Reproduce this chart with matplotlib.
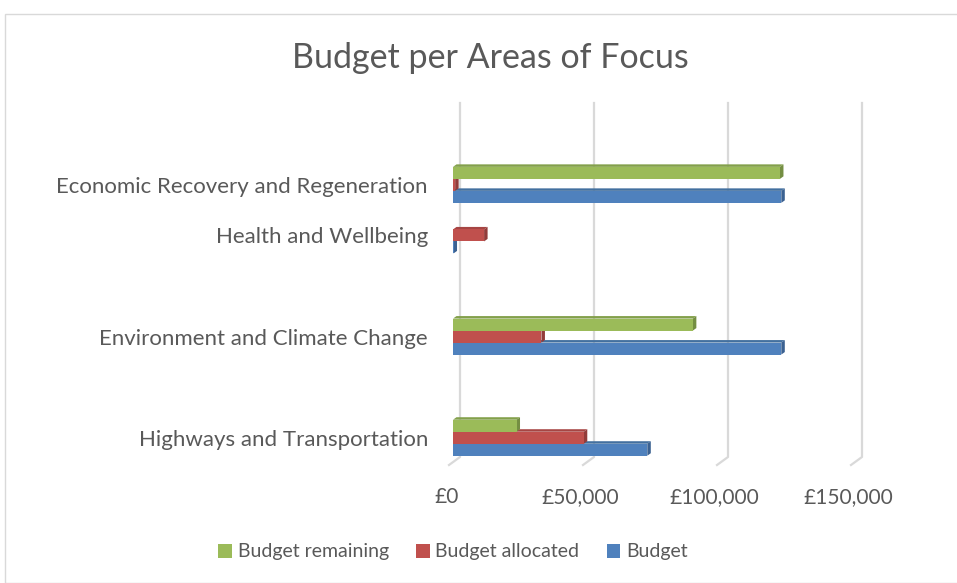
import matplotlib
matplotlib.use("Agg")
import matplotlib.pyplot as plt
from matplotlib.patches import Polygon, Rectangle
from matplotlib.transforms import ScaledTranslation

plt.rcParams['font.family'] = ['Lato', 'DejaVu Sans']

# data (blank rows kept as empty categories, as in the sheet)
categories = ['Highways and Transportation', '', 'Environment and Climate Change', '',
              'Health and Wellbeing', 'Economic Recovery and Regeneration', '']
budget = [72500, 0, 122500, 0, 200, 122500, 0]
allocated = [48800, 0, 33000, 0, 11600, 800, 0]
remaining = [23700, 0, 89500, 0, 0, 122000, 0]
series_names = ['Budget remaining', 'Budget allocated', 'Budget']
xticks = [0, 50000, 100000, 150000]
xtick_labels = ['£0', '£50,000', '£100,000', '£150,000']

face = {'Budget': '#4F81BD', 'Budget allocated': '#C0504D', 'Budget remaining': '#9BBB59'}
side = {'Budget': '#3B6191', 'Budget allocated': '#923C3A', 'Budget remaining': '#748E42'}
top = {'Budget': '#43709F', 'Budget allocated': '#A64543', 'Budget remaining': '#83A04B'}
txt = '#595959'

W, H = 957, 583
fig = plt.figure(figsize=(W / 100, H / 100), dpi=100)

# chart area border
fig.patches.append(Rectangle((5 / W, 0), 1, 1 - 14 / H, transform=fig.transFigure,
                             fill=False, edgecolor='#D9D9D9', linewidth=1))

left, right, bottom, topp = 453, 855, 463, 109
ax = fig.add_axes([left / W, 1 - bottom / H, (right - left) / W, (bottom - topp) / H])
ax.set_xlim(0, 150000)
ax.set_ylim(-0.5, len(categories) - 0.5)
for s in ax.spines.values():
    s.set_visible(False)
ax.patch.set_visible(False)

# pixel -> data scale
xpp = 150000 / (right - left)
ypp = len(categories) / (bottom - topp)

# back wall gridlines with floor diagonal
for xv in xticks:
    xb = xv + 7 * xpp
    ax.plot([xb, xb, xv - 4 * xpp], [len(categories) - 0.5 + 6 * ypp, -0.5 + 6 * ypp, -0.5 - 2 * ypp],
            color='#D9D9D9', linewidth=1.6, clip_on=False, zorder=0)

bh = 12 * ypp
dx, dy = 3.5 * xpp, 2.5 * ypp
offsets = {'Budget': -bh, 'Budget allocated': 0, 'Budget remaining': bh}
values = {'Budget': budget, 'Budget allocated': allocated, 'Budget remaining': remaining}

z = 2
for i in range(len(categories)):
    for name in ['Budget', 'Budget allocated', 'Budget remaining']:
        v = values[name][i]
        if v <= 0:
            continue
        y0 = i + offsets[name] - bh / 2
        y1 = y0 + bh
        ax.add_patch(Polygon([(0, y1), (v, y1), (v + dx, y1 + dy), (dx, y1 + dy)],
                             closed=True, facecolor=top[name], edgecolor='none', zorder=z))
        ax.add_patch(Polygon([(v, y0), (v + dx, y0 + dy), (v + dx, y1 + dy), (v, y1)],
                             closed=True, facecolor=side[name], edgecolor='none', zorder=z))
        ax.add_patch(Rectangle((0, y0), v, bh, facecolor=face[name], edgecolor='none', zorder=z))
        z += 1

ax.set_yticks(range(len(categories)))
ax.set_yticklabels(categories, fontsize=16, color=txt)
ax.set_xticks(xticks)
ax.set_xticklabels(xtick_labels, fontsize=15, color=txt)
ax.tick_params(axis='y', length=0, pad=18)
ax.tick_params(axis='x', length=0, pad=17)
# labels sit under the front edge of the floor
shift = ScaledTranslation(-6.5 / 100, 0, fig.dpi_scale_trans)
for lab in ax.get_xticklabels():
    lab.set_transform(lab.get_transform() + shift)

fig.text(490 / W, 1 - 58 / H, 'Budget per Areas of Focus', fontsize=24.5, color=txt,
         ha='center', va='center')

# legend
handles = [Rectangle((0, 0), 1, 1, facecolor=face[n]) for n in series_names]
fig.legend(handles, series_names, loc='center', bbox_to_anchor=(453 / W, 1 - 552 / H),
           ncol=3, frameon=False, fontsize=14, labelcolor=txt, handlelength=0.7,
           handleheight=0.7, handletextpad=0.3, columnspacing=1.4,
           borderpad=0, borderaxespad=0)

fig.savefig('out.png', dpi=100)
